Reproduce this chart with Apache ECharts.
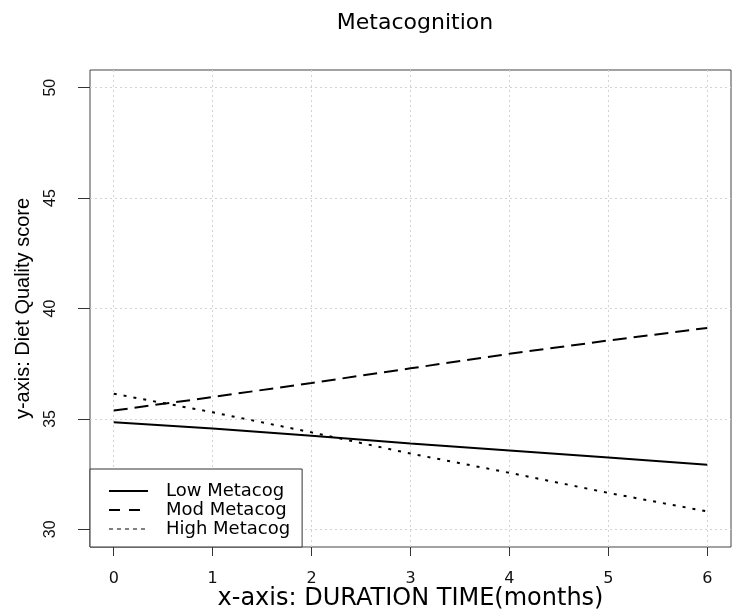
<!DOCTYPE html>
<html>
<head>
<meta charset="utf-8">
<script src="https://cdn.jsdelivr.net/npm/echarts@6/dist/echarts.min.js"></script>
<style>html,body{margin:0;padding:0;background:#fff;}#c{width:739px;height:609px;}</style>
</head>
<body>
<div id="c"></div>
<script>
const months = [0, 1, 2, 3, 4, 5, 6];
const lowMetacog = [34.85, 34.57, 34.24, 33.89, 33.57, 33.25, 32.93];
const modMetacog = [35.38, 35.99, 36.63, 37.29, 37.95, 38.55, 39.12];
const highMetacog = [36.14, 35.30, 34.39, 33.43, 32.56, 31.65, 30.81];
const xTicks = [0, 1, 2, 3, 4, 5, 6];
const yTicks = [30, 35, 40, 45, 50];

const pairs = (ys) => months.map((m, i) => [m, ys[i]]);
const wide = '"DejaVu Sans", sans-serif';
const narrow = '"Liberation Sans", Arial, sans-serif';
const hidden = { color: 'rgba(0,0,0,0)', borderWidth: 0 };

const chart = echarts.init(document.getElementById('c'));
chart.setOption({
  animation: false,
  backgroundColor: '#fff',
  title: {
    text: 'Metacognition',
    left: 410, top: 7, textAlign: 'center',
    textStyle: { fontFamily: wide, fontSize: 22, fontWeight: 'normal', color: '#000' }
  },
  grid: {
    left: 90, right: 8, top: 70, bottom: 62,
    containLabel: false, outerBoundsMode: 'none',
    show: true, borderColor: '#444', borderWidth: 1, backgroundColor: 'transparent'
  },
  xAxis: {
    type: 'value', min: -0.24, max: 6.24,
    name: 'x-axis: DURATION TIME(months)', nameLocation: 'middle', nameGap: 40, nameMoveOverlap: false,
    nameTextStyle: { fontFamily: wide, fontSize: 24, color: '#000' },
    axisLine: { show: false, onZero: false },
    axisTick: { show: true, length: 9, customValues: xTicks, lineStyle: { color: '#333' } },
    axisLabel: { customValues: xTicks, margin: 24, fontFamily: wide, fontSize: 16, color: '#111' },
    splitLine: { show: true, lineStyle: { color: '#d3d3d3', type: [2, 3] } }
  },
  yAxis: {
    type: 'value', min: 29.2, max: 50.8,
    name: 'y-axis: Diet Quality score', nameLocation: 'middle', nameGap: 57, nameRotate: 90, nameMoveOverlap: false,
    nameTextStyle: { fontFamily: narrow, fontSize: 20, color: '#000' },
    axisLine: { show: false, onZero: false },
    axisTick: { show: true, length: 12, customValues: yTicks, lineStyle: { color: '#333' } },
    axisLabel: { customValues: yTicks, rotate: 90, margin: 31, fontFamily: narrow, fontSize: 16, color: '#111' },
    splitLine: { show: true, lineStyle: { color: '#d3d3d3', type: [2, 3] } }
  },
  legend: {
    orient: 'vertical', left: 90, bottom: 62,
    backgroundColor: '#fff', borderColor: '#333', borderWidth: 1,
    padding: [13, 12, 9, 18],
    itemWidth: 39, itemHeight: 14, itemGap: 1,
    textStyle: { fontFamily: wide, fontSize: 18, lineHeight: 18, color: '#000', padding: [0, 0, 0, 13] },
    data: [
      { name: 'Low Metacog', itemStyle: hidden, lineStyle: { width: 2, color: '#000', type: 'solid' } },
      { name: 'Mod Metacog', itemStyle: hidden, lineStyle: { width: 2, color: '#000', type: [11, 9] } },
      { name: 'High Metacog', itemStyle: hidden, lineStyle: { width: 1, color: '#000', type: [4, 4] } }
    ]
  },
  series: [
    { name: 'Low Metacog', type: 'line', data: pairs(lowMetacog), symbol: 'none',
      lineStyle: { color: '#000', width: 2, type: 'solid' }, itemStyle: { color: '#000' } },
    { name: 'Mod Metacog', type: 'line', data: pairs(modMetacog), symbol: 'none',
      lineStyle: { color: '#000', width: 2, type: [14, 7] }, itemStyle: { color: '#000' } },
    { name: 'High Metacog', type: 'line', data: pairs(highMetacog), symbol: 'none',
      lineStyle: { color: '#000', width: 2, type: [3, 7] }, itemStyle: { color: '#000' } }
  ]
});
</script>
</body>
</html>
